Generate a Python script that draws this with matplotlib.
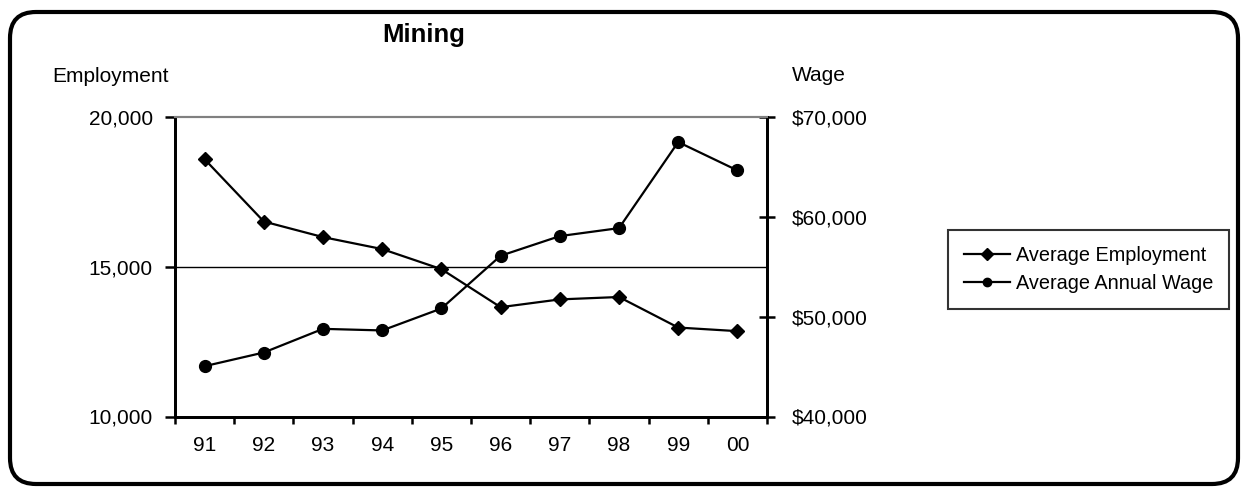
import matplotlib
matplotlib.use("Agg")
import matplotlib.pyplot as plt
from matplotlib.patches import FancyBboxPatch
from matplotlib.ticker import FuncFormatter, FixedLocator

plt.rcParams['font.family'] = ['Liberation Sans', 'DejaVu Sans']

# Daten
years = ["91", "92", "93", "94", "95", "96", "97", "98", "99", "00"]
employment = [18590, 16510, 15990, 15590, 14920, 13650, 13910, 13990, 12970, 12850]
wage = [45040, 46410, 48780, 48620, 50820, 56100, 58070, 58870, 67490, 64650]

W, H = 1242, 487
fig = plt.figure(figsize=(W / 100, H / 100), dpi=100)

# Hilfsachse in Pixeln fuer den abgerundeten Rahmen
bg = fig.add_axes([0, 0, 1, 1], zorder=-1)
bg.set_xlim(0, W)
bg.set_ylim(H, 0)
bg.axis("off")
bg.add_patch(FancyBboxPatch((10, 12), 1228, 472,
                            boxstyle="round,pad=0,rounding_size=26",
                            fill=False, edgecolor="black", linewidth=3.0))

ax = fig.add_axes([175 / W, 1 - 416.5 / H, 592 / W, 299.5 / H])
ax2 = ax.twinx()

x = range(len(years))
l1, = ax.plot(x, employment, color="black", linewidth=1.6, marker="D",
              markersize=7, label="Average Employment")
l2, = ax2.plot(x, wage, color="black", linewidth=1.6, marker="o",
               markersize=8.5, label="Average Annual Wage")

ax.set_xlim(-0.5, len(years) - 0.5)
ax.set_ylim(10000, 20000)
ax2.set_ylim(40000, 70000)
ax.set_yticks([10000, 15000, 20000])
ax2.set_yticks([40000, 50000, 60000, 70000])
ax.yaxis.set_major_formatter(FuncFormatter(lambda v, p: f"{v:,.0f}"))
ax2.yaxis.set_major_formatter(FuncFormatter(lambda v, p: f"${v:,.0f}"))

# nur eine Gitterlinie bei 15,000
ax.axhline(15000, color="black", linewidth=1.0, zorder=0)

# Kategorien: Beschriftung in der Mitte, Striche an den Grenzen
ax.set_xticks(list(x))
ax.set_xticklabels(years)
ax.tick_params(axis="x", which="major", length=0, pad=14)
ax.xaxis.set_minor_locator(FixedLocator([i - 0.5 for i in range(len(years) + 1)]))
ax.tick_params(axis="x", which="minor", length=5, width=1.8, direction="out")

ax.tick_params(axis="y", length=7, width=1.8, direction="out", pad=9)
ax2.tick_params(axis="y", length=11, width=1.8, direction="inout", pad=12)
for a in (ax, ax2):
    a.tick_params(labelsize=15)

for a in (ax, ax2):
    a.spines["top"].set_color("#808080")
    a.spines["top"].set_linewidth(1.5)
    for s in ("left", "right", "bottom"):
        a.spines[s].set_linewidth(2.0)

fig.text(424 / W, 1 - 42 / H, "Mining", ha="center", va="baseline",
         fontsize=18.5, fontweight="bold")
fig.text(52 / W, 1 - 82 / H, "Employment", ha="left", va="baseline", fontsize=15)
fig.text(792 / W, 1 - 81 / H, "Wage", ha="left", va="baseline", fontsize=15)

leg = fig.legend([l1, l2], ["Average Employment", "Average Annual Wage"],
                 loc="upper left", bbox_to_anchor=(948 / W, 1 - 230 / H),
                 frameon=True, fancybox=False, fontsize=14.3, handlelength=2.3,
                 borderpad=0.8, labelspacing=0.45, handletextpad=0.3, borderaxespad=0)
leg.get_frame().set_edgecolor("black")
leg.get_frame().set_linewidth(1.5)
for h in leg.legend_handles:
    h.set_markersize(6)

fig.savefig("out.png", dpi=100)
